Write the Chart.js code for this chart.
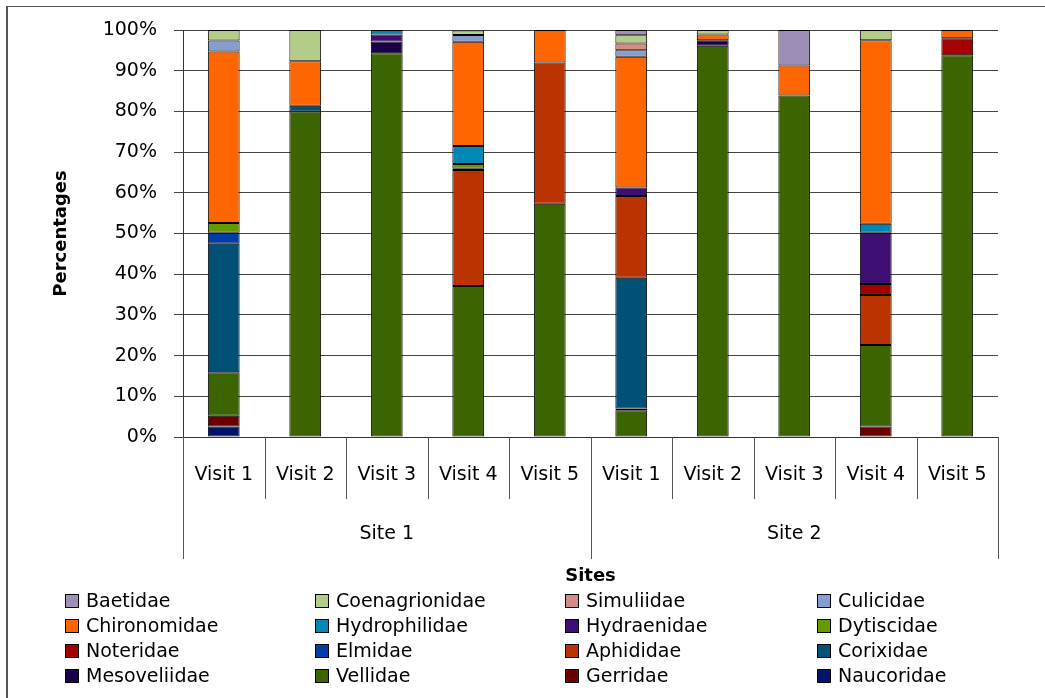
<!DOCTYPE html>
<html>
<head>
<meta charset="utf-8">
<script src="https://cdn.jsdelivr.net/npm/chart.js@4.4.0/dist/chart.umd.min.js"></script>
<style>
body { margin: 0; background: #fff; }
#wrap { position: relative; width: 1045px; height: 698px; overflow: hidden; font-family: "DejaVu Sans", sans-serif; }
#frame { position: absolute; left: 6px; top: 6px; width: 2000px; height: 2000px; border-left: 2px solid #555; border-top: 1px solid #555; }
#myChart { position: absolute; left: 0; top: 0; }
#legend { position: absolute; left: 0; top: 0; width: 1045px; height: 698px; pointer-events: none; }
.item { position: absolute; font-size: 19px; line-height: 24px; color: #000; white-space: nowrap; }
.sw { display: inline-block; width: 12px; height: 12px; border: 1px solid #000; margin-right: 7px; vertical-align: -1px; }
</style>
</head>
<body>
<div id="wrap">
  <div id="frame"></div>
  <canvas id="myChart" width="1045" height="698"></canvas>
  <div id="legend"></div>
</div>
<script>
// categories
var visits = ['Visit 1', 'Visit 2', 'Visit 3', 'Visit 4', 'Visit 5', 'Visit 1', 'Visit 2', 'Visit 3', 'Visit 4', 'Visit 5'];
var sites = ['Site 1', 'Site 2'];
var yTicks = [0, 10, 20, 30, 40, 50, 60, 70, 80, 90, 100];

// percentages per family, bottom of stack first
var naucoridae     = [2.6, 0, 0, 0, 0, 0, 0, 0, 0, 0];
var gerridae       = [2.6, 0, 0, 0, 0, 0, 0, 0, 2.6, 0];
var vellidae       = [10.7, 80.0, 94.3, 37.1, 57.3, 6.6, 96.1, 83.9, 20.0, 93.8];
var mesoveliidae   = [0, 0, 2.9, 0, 0, 0.4, 1.4, 0, 0, 0];
var corixidae      = [31.6, 1.4, 0, 0, 0, 32.1, 0, 0, 0, 0];
var aphididae      = [0, 0, 0, 28.5, 34.7, 20.1, 0, 0, 12.3, 0];
var elmidae        = [2.7, 0, 0, 0, 0, 0, 0, 0, 0, 0];
var noteridae      = [0, 0, 0, 0.3, 0, 0, 0, 0, 2.7, 4.2];
var dytiscidae     = [2.4, 0, 0, 1.2, 0, 0, 0, 0, 0, 0];
var hydraenidae    = [0, 0, 1.7, 0, 0, 2.1, 0, 0, 12.6, 0];
var hydrophilidae  = [0, 0, 1.1, 4.4, 0, 0, 0, 0, 2.2, 0];
var chironomidae   = [42.1, 10.9, 0, 25.6, 8.0, 32.1, 1.4, 7.4, 45.1, 2.0];
var culicidae      = [2.7, 0, 0, 1.7, 0, 1.6, 0, 0, 0, 0];
var simuliidae     = [0, 0, 0, 0, 0, 1.7, 0, 0, 0, 0];
var coenagrionidae = [2.6, 7.7, 0, 1.1, 0, 2.0, 1.1, 0, 2.5, 0];
var baetidae       = [0, 0, 0, 0, 0, 1.3, 0, 8.7, 0, 0];

var families = [
  ['Naucoridae', naucoridae, '#00136b'],
  ['Gerridae', gerridae, '#6b0000'],
  ['Vellidae', vellidae, '#3c6400'],
  ['Mesoveliidae', mesoveliidae, '#1a0048'],
  ['Corixidae', corixidae, '#005078'],
  ['Aphididae', aphididae, '#bb3300'],
  ['Elmidae', elmidae, '#003ea3'],
  ['Noteridae', noteridae, '#a50000'],
  ['Dytiscidae', dytiscidae, '#669900'],
  ['Hydraenidae', hydraenidae, '#3d0f73'],
  ['Hydrophilidae', hydrophilidae, '#0087b4'],
  ['Chironomidae', chironomidae, '#ff6600'],
  ['Culicidae', culicidae, '#859ecf'],
  ['Simuliidae', simuliidae, '#d88a86'],
  ['Coenagrionidae', coenagrionidae, '#b3cc87'],
  ['Baetidae', baetidae, '#9e8fb8']
];

var datasets = families.map(function (f) {
  return {
    label: f[0],
    data: f[1].map(function (v) { return v || null; }),
    backgroundColor: f[2],
    borderColor: '#000',
    borderWidth: 1,
    borderSkipped: false,
    barPercentage: 0.39,
    categoryPercentage: 1.0
  };
});

var font = { family: '"DejaVu Sans", sans-serif', size: 19 };

// separator lines of the two level category axis
const separators = {
  id: 'separators',
  afterDraw(chart) {
    const x = chart.scales.x, x2 = chart.scales.x2, c = chart.ctx;
    c.save();
    c.strokeStyle = '#555';
    c.lineWidth = 1;
    const step = x.getPixelForValue(1) - x.getPixelForValue(0);
    for (let i = 0; i <= visits.length; i++) {
      const px = Math.round(x.getPixelForValue(0) - step / 2 + i * step) + 0.5;
      c.beginPath(); c.moveTo(px, x.top); c.lineTo(px, x.bottom); c.stroke();
    }
    const step2 = x2.getPixelForValue(1) - x2.getPixelForValue(0);
    for (let j = 0; j <= sites.length; j++) {
      const px = Math.round(x2.getPixelForValue(0) - step2 / 2 + j * step2) + 0.5;
      c.beginPath(); c.moveTo(px, x2.top); c.lineTo(px, x2.top + 60); c.stroke();
    }
    c.restore();
  }
};

const ctx = document.getElementById('myChart').getContext('2d');
const myChart = new Chart(ctx, {
  type: 'bar',
  data: { labels: visits, datasets: datasets },
  plugins: [separators],
  options: {
    responsive: false,
    animation: false,
    layout: { padding: { left: 30, top: 30, right: 47, bottom: 109 } },
    plugins: { legend: { display: false }, tooltip: { enabled: false } },
    scales: {
      x: {
        stacked: true,
        grid: { display: false },
        border: { color: '#333' },
        ticks: { padding: 19, color: '#000', font: font, maxRotation: 0, autoSkip: false },
        afterFit: function (s) { s.height = 62; }
      },
      x2: {
        type: 'category',
        labels: sites,
        position: 'bottom',
        offset: true,
        grid: { display: false },
        border: { display: false },
        ticks: { padding: 16, color: '#000', font: font, maxRotation: 0 },
        title: { display: true, text: 'Sites', color: '#000', font: { family: font.family, size: 18, weight: 'bold' }, padding: 2 },
        afterFit: function (s) { s.height = 90; }
      },
      y: {
        stacked: true,
        min: 0,
        max: 100,
        afterBuildTicks: function (s) { s.ticks = yTicks.map(function (v) { return { value: v }; }); },
        ticks: { padding: 17, color: '#000', font: font, callback: function (v) { return v + '%'; } },
        grid: { color: '#444', tickLength: 9 },
        border: { color: '#333' },
        title: { display: true, text: 'Percentages', color: '#000', font: { family: font.family, size: 18, weight: 'bold' }, padding: 21 },
        afterFit: function (s) { s.width = 153; }
      }
    }
  }
});

// legend in a 4 column grid, same order as the reference
var legend = document.getElementById('legend');
var order = families.slice().reverse();
var colX = [65, 315, 565, 817];
var rowY = [588, 613, 638, 663];
order.forEach(function (f, i) {
  var d = document.createElement('div');
  d.className = 'item';
  d.style.left = colX[i % 4] + 'px';
  d.style.top = rowY[Math.floor(i / 4)] + 'px';
  d.innerHTML = '<span class="sw" style="background:' + f[2] + '"></span>' + f[0];
  legend.appendChild(d);
});
</script>
</body>
</html>
